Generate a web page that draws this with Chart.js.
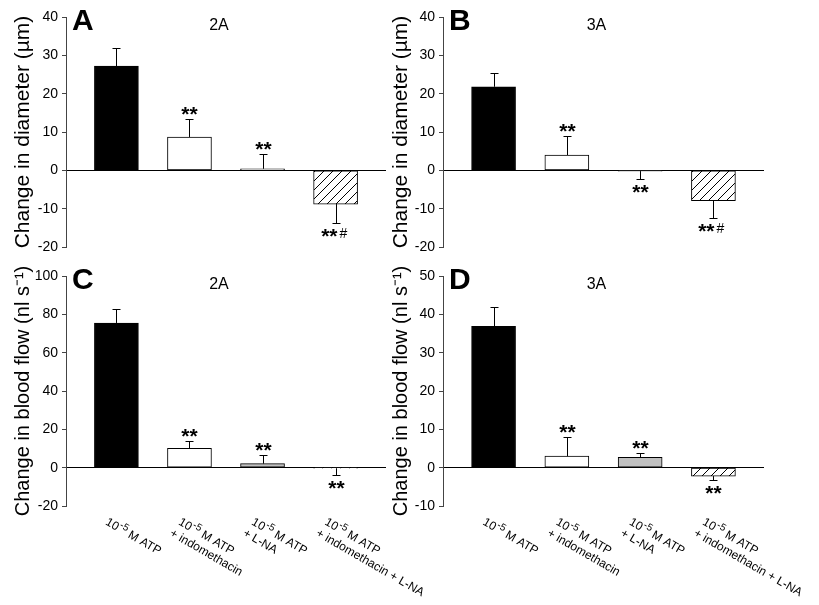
<!DOCTYPE html>
<html>
<head>
<meta charset="utf-8">
<script src="https://cdn.jsdelivr.net/npm/chart.js@4.4.0/dist/chart.umd.min.js"></script>
<style>
  body { margin: 0; background: #fff; }
  #wrap { position: relative; width: 819px; height: 605px; overflow: hidden; background: #fff; }
  canvas { position: absolute; }
</style>
</head>
<body>
<div id="wrap">
  <canvas id="chA" width="430" height="262" style="left:0;top:0"></canvas>
  <canvas id="chB" width="441" height="262" style="left:378px;top:0"></canvas>
  <canvas id="chC" width="430" height="345" style="left:0;top:260px"></canvas>
  <canvas id="chD" width="441" height="345" style="left:378px;top:260px"></canvas>
</div>
<script>
const categories = [
    ['10⁻⁵ M ATP'],
    ['10⁻⁵ M ATP', '+ indomethacin'],
    ['10⁻⁵ M ATP', '+ L-NA'],
    ['10⁻⁵ M ATP', '+ indomethacin + L-NA']
]

const diameter2A = [27.2, 8.7, 0.4, -8.8]
const diameter2AErr = [4.8, 4.8, 3.9, 5.0]
const diameter3A = [21.8, 4.0, -0.2, -7.9]
const diameter3AErr = [3.5, 4.9, 2.1, 4.5]

const flow2A = [75.5, 10.1, 2.1, -0.3]
const flow2AErr = [7.5, 4.0, 4.3, 3.7]
const flow3A = [36.9, 3.0, 2.7, -2.2]
const flow3AErr = [4.9, 5.0, 1.0, 1.0]

const marksDiameter = ['', '**', '**', '**#']
const marksFlow = ['', '**', '**', '**']

const diameterTicks = [-20, -10, 0, 10, 20, 30, 40]
const flow2ATicks = [-20, 0, 20, 40, 60, 80, 100]
const flow3ATicks = [-10, 0, 10, 20, 30, 40, 50]

const FONT = "'Liberation Sans', Arial, sans-serif"

function hatchPattern() {
    const c = document.createElement('canvas')
    c.width = 9
    c.height = 9
    const g = c.getContext('2d')
    g.fillStyle = '#fff'
    g.fillRect(0, 0, 9, 9)
    g.strokeStyle = '#000'
    g.lineWidth = 1
    g.beginPath()
    g.moveTo(-1, 10); g.lineTo(10, -1)
    g.moveTo(-3, 3); g.lineTo(3, -3)
    g.moveTo(6, 12); g.lineTo(12, 6)
    g.stroke()
    return g.createPattern(c, 'repeat')
}

const barColors = ['#000', '#fff', '#c0c0c0', hatchPattern()]

// draws "10⁻⁵" with a readable raised exponent, rest of the line normal
function drawLabelLine(ctx, text, x, y) {
    const k = text.indexOf('⁻⁵')
    if (k < 0) {
        ctx.fillText(text, x, y)
        return
    }
    const head = text.slice(0, k)
    const tail = text.slice(k + 2)
    ctx.font = `12px ${FONT}`
    ctx.fillText(head, x, y)
    let cx = x + ctx.measureText(head).width
    ctx.font = `10px ${FONT}`
    ctx.fillText('-5', cx + 0.5, y - 3)
    cx += ctx.measureText('-5').width + 0.5
    ctx.font = `12px ${FONT}`
    ctx.fillText(tail, cx, y)
}

// error bars, significance marks, panel letter, title and rotated labels
const panelDecor = {
    id: 'panelDecor',
    afterDatasetsDraw(chart, args, opts) {
        const ctx = chart.ctx
        const xs = chart.scales.x
        const ys = chart.scales.y
        const area = chart.chartArea
        const values = chart.data.datasets[0].data.map(d => d.y)

        ctx.save()
        ctx.strokeStyle = '#000'
        ctx.lineWidth = 1
        values.forEach((v, i) => {
            const dir = v >= 0 ? 1 : -1
            const x = Math.round(xs.getPixelForValue(i)) + 0.5
            const y0 = ys.getPixelForValue(v)
            const y1 = Math.round(ys.getPixelForValue(v + dir * opts.errors[i])) + 0.5
            ctx.beginPath()
            ctx.moveTo(x, y0)
            ctx.lineTo(x, y1)
            ctx.moveTo(x - 4, y1)
            ctx.lineTo(x + 4, y1)
            ctx.stroke()

            const mark = opts.marks[i]
            if (!mark) return
            const stars = mark.replace('#', '')
            ctx.fillStyle = '#000'
            ctx.font = `bold 21px ${FONT}`
            ctx.textBaseline = 'alphabetic'
            const m = ctx.measureText(stars)
            const base = dir > 0 ? y1 - 4.5 - m.actualBoundingBoxDescent : y1 + 5 + m.actualBoundingBoxAscent
            if (mark.includes('#')) {
                ctx.textAlign = 'right'
                ctx.fillText(stars, x + 1, base)
                ctx.font = `14px ${FONT}`
                ctx.textAlign = 'left'
                const inkBottom = base + m.actualBoundingBoxDescent
                ctx.fillText('#', x + 3, inkBottom + 1.5)
            } else {
                ctx.textAlign = 'center'
                ctx.fillText(stars, x, base)
            }
        })

        ctx.fillStyle = '#000'
        ctx.textAlign = 'left'
        ctx.textBaseline = 'alphabetic'
        ctx.font = `bold 30px ${FONT}`
        ctx.fillText(opts.letter, area.left + 6, area.top + 13)
        ctx.font = `16px ${FONT}`
        ctx.textAlign = 'center'
        ctx.fillText(opts.title, area.left + (area.right - area.left) * 0.478, area.top + 13)

        if (opts.showLabels) {
            ctx.textAlign = 'left'
            ctx.textBaseline = 'top'
            categories.forEach((lines, i) => {
                ctx.save()
                ctx.translate(xs.getPixelForValue(i) - 7, area.bottom + 10)
                ctx.rotate(Math.PI / 6)
                lines.forEach((t, j) => {
                    ctx.font = `12px ${FONT}`
                    drawLabelLine(ctx, t, j ? -2 : 0, j * 14)
                })
                ctx.restore()
            })
        }
        ctx.restore()
    }
}

function makePanel(id, values, errors, marks, ticks, yTitle, titleSize, letter, title, axisWidth, padding, showLabels) {
    return new Chart(document.getElementById(id), {
        type: 'bar',
        data: {
            datasets: [{
                data: values.map((v, i) => ({ x: i, y: v })),
                backgroundColor: barColors,
                borderColor: '#000',
                borderWidth: 1,
                borderSkipped: false,
                barThickness: 44
            }]
        },
        options: {
            responsive: false,
            animation: false,
            devicePixelRatio: 1,
            layout: { padding },
            plugins: {
                legend: { display: false },
                tooltip: { enabled: false },
                panelDecor: { errors, marks, letter, title, showLabels }
            },
            scales: {
                x: {
                    type: 'linear',
                    display: false,
                    offset: false,
                    min: -0.69,
                    max: 3.69
                },
                y: {
                    min: ticks[0],
                    max: ticks[ticks.length - 1],
                    afterFit: s => { s.width = axisWidth },
                    ticks: {
                        stepSize: ticks[1] - ticks[0],
                        color: '#000',
                        padding: 4,
                        font: { family: FONT, size: 14 }
                    },
                    grid: {
                        color: c => c.tick && c.tick.value === 0 ? '#000' : 'rgba(0,0,0,0)',
                        tickColor: '#444',
                        tickLength: 4,
                        lineWidth: 1
                    },
                    border: { color: '#444', width: 1 },
                    title: {
                        display: true,
                        text: yTitle,
                        color: '#000',
                        font: { family: FONT, size: titleSize },
                        padding: { top: 11, bottom: 0 }
                    }
                }
            }
        },
        plugins: [panelDecor]
    })
}

makePanel('chA', diameter2A, diameter2AErr, marksDiameter, diameterTicks,
    'Change in diameter (µm)', 21, 'A', '2A', 66, { top: 17, bottom: 15, left: 0, right: 44 }, false)
makePanel('chB', diameter3A, diameter3AErr, marksDiameter, diameterTicks,
    'Change in diameter (µm)', 21, 'B', '3A', 65, { top: 17, bottom: 15, left: 0, right: 55 }, false)
makePanel('chC', flow2A, flow2AErr, marksFlow, flow2ATicks,
    'Change in blood flow (nl s⁻¹)', 20, 'C', '2A', 66, { top: 16, bottom: 99, left: 0, right: 44 }, true)
makePanel('chD', flow3A, flow3AErr, marksFlow, flow3ATicks,
    'Change in blood flow (nl s⁻¹)', 20, 'D', '3A', 65, { top: 16, bottom: 99, left: 0, right: 55 }, true)
</script>
</body>
</html>
